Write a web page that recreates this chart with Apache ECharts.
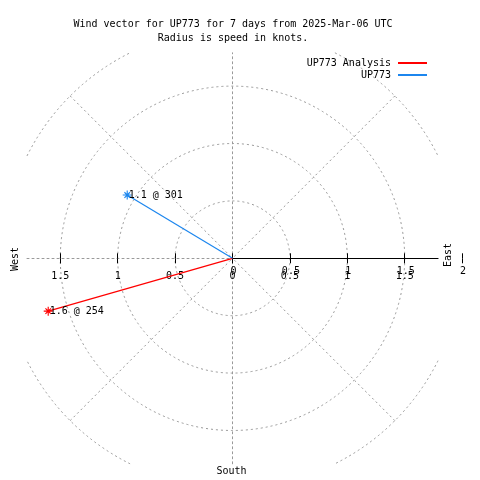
<!DOCTYPE html>
<html><head><meta charset="utf-8">
<script src="https://cdn.jsdelivr.net/npm/echarts@6/dist/echarts.min.js"></script>
<style>html,body{margin:0;padding:0;background:#fff}#c{width:480px;height:480px}</style>
</head><body><div id="c"></div>
<script>
// ---- data ----
const seriesNames = ['UP773 Analysis', 'UP773'];
const seriesColors = ['#ff0000', '#1c86ee'];
const speeds = [1.67, 1.07];          // knots (radius)
const directions = [254, 301];        // degrees (bearing)
const pointLabels = ['1.6 @ 254', '1.1 @ 301'];
const tickValues = [-1.5, -1, -0.5, 0, 0.5, 1, 1.5, 2];
const lowerLabelValues = [-1.5, -1, -0.5, 0, 0.5, 1, 1.5];
const upperLabelValues = [0, 0.5, 1, 1.5, 2];
const titleLines = ['Wind vector for UP773 for 7 days from 2025-Mar-06 UTC', 'Radius is speed in knots.'];
const directionNames = ['West', 'East', 'South'];

// ---- layout ----
const cx = 232.5, cy = 258.3, u = 114.8;
const R = 2 * u, H = 1.79 * u;
const FONT = "'DejaVu Sans Mono', 'Liberation Mono', monospace";
const GRAY = '#999999';
const DASH = [2, 3];

const chart = echarts.init(document.getElementById('c'), null, {renderer: 'canvas'});

const asterisk = 'path://M-0.5,-4L0.5,-4L0.5,4L-0.5,4Z M-4,-0.5L4,-0.5L4,0.5L-4,0.5Z M-2.83,-2.12L-2.12,-2.83L2.83,2.12L2.12,2.83Z M2.12,-2.83L2.83,-2.12L-2.12,2.83L-2.83,2.12Z';

const hiddenAxis = {show: true, axisLine: {show: false}, axisTick: {show: false}, axisLabel: {show: false}, splitLine: {show: false}};

const a1 = Math.acos(H / R), a2 = Math.asin(H / R);
const arcs = [0, 1, 2, 3].map(q => ({
  type: 'arc', z: 0,
  shape: {cx: cx, cy: cy, r: R, startAngle: q * Math.PI / 2 + a1, endAngle: q * Math.PI / 2 + a2, clockwise: true},
  style: {stroke: GRAY, lineWidth: 1, lineDash: DASH, fill: null}
}));

const series = seriesNames.map((name, i) => ({
  name: name,
  type: 'line',
  coordinateSystem: 'polar',
  polarIndex: 1,
  z: 5,
  color: seriesColors[i],
  lineStyle: {color: seriesColors[i], width: 1.2},
  itemStyle: {color: seriesColors[i]},
  symbol: 'none',
  animation: false,
  data: [
    {value: [0, directions[i]], symbol: 'none'},
    {value: [speeds[i], directions[i]], symbol: asterisk, symbolSize: 9,
     label: {show: true, position: 'right', distance: -3, formatter: pointLabels[i],
             color: '#000', fontFamily: FONT, fontSize: 10}}
  ]
}));

const option = {
  animation: false,
  backgroundColor: '#fff',
  title: {
    text: titleLines.join('\n'),
    left: 228, top: 12, textAlign: 'center',
    textStyle: {fontFamily: FONT, fontSize: 10, fontWeight: 'normal', color: '#000', lineHeight: 14}
  },
  legend: seriesNames.map((n, i) => ({
    data: [n], orient: 'vertical', right: 53, top: 58 + i * 12,
    align: 'right', icon: 'rect', itemWidth: 29, itemHeight: 2, itemGap: 0, padding: 0,
    selectedMode: false,
    textStyle: {fontFamily: FONT, fontSize: 10, color: '#000', padding: [0, 2, 0, 0]}
  })),
  polar: [
    {center: [cx, cy], radius: 1.5 * u},
    {center: [cx, cy], radius: R}
  ],
  radiusAxis: [
    {polarIndex: 0, type: 'value', min: 0, max: 1.5, interval: 0.5,
     axisLine: {show: false}, axisTick: {show: false}, axisLabel: {show: false},
     splitLine: {show: true, lineStyle: {color: GRAY, type: DASH, width: 1}}},
    {polarIndex: 1, type: 'value', min: 0, max: 2, interval: 0.5,
     axisLine: {show: false}, axisTick: {show: false}, axisLabel: {show: false}, splitLine: {show: false}}
  ],
  angleAxis: [
    {polarIndex: 0, type: 'value', min: 0, max: 360, startAngle: 90, clockwise: true,
     axisLine: {show: false}, axisTick: {show: false}, axisLabel: {show: false}, splitLine: {show: false}},
    {polarIndex: 1, type: 'value', min: 45, max: 405, interval: 90, startAngle: 45, clockwise: true,
     axisLine: {show: false}, axisTick: {show: false}, axisLabel: {show: false},
     splitLine: {show: true, lineStyle: {color: GRAY, type: DASH, width: 1}}}
  ],
  grid: [
    {left: cx - H, top: cy - H, width: 2 * H, height: 2 * H},
    {left: cx, top: cy - H, width: H, height: 2 * H},
    {left: cx - R, top: cy - 20, width: 2 * R, height: 20},
    {left: cx - R, top: cy, width: 2 * R, height: 20}
  ],
  xAxis: [
    {gridIndex: 0, type: 'value', min: -1.79, max: 1.79, axisLine: {show: true, onZero: true, lineStyle: {color: GRAY, type: DASH, width: 1}},
     axisTick: {show: false}, axisLabel: {show: false}, splitLine: {show: false}},
    {gridIndex: 1, type: 'value', min: 0, max: 1.79, axisLine: {show: true, onZero: true, lineStyle: {color: '#000', width: 1}},
     axisTick: {show: false}, axisLabel: {show: false}, splitLine: {show: false}, z: 3},
    {gridIndex: 2, type: 'value', position: 'bottom', min: -2, max: 2, interval: 0.5,
     axisLine: {show: false, onZero: false},
     axisTick: {show: true, length: 5, customValues: tickValues, lineStyle: {color: '#000', width: 1}},
     axisLabel: {show: true, customValues: lowerLabelValues, margin: 13, formatter: v => String(Math.abs(v)),
                 color: '#000', fontFamily: FONT, fontSize: 10, showMinLabel: true, showMaxLabel: true},
     splitLine: {show: false}, z: 4},
    {gridIndex: 3, type: 'value', position: 'top', min: -2, max: 2, interval: 0.5,
     axisLine: {show: false, onZero: false},
     axisTick: {show: true, length: 5, customValues: tickValues, lineStyle: {color: '#000', width: 1}},
     axisLabel: {show: true, inside: true, customValues: upperLabelValues, margin: 8, formatter: v => String(Math.abs(v)),
                 padding: [0, 0, 0, 2], color: '#000', fontFamily: FONT, fontSize: 10, showMinLabel: true, showMaxLabel: true},
     splitLine: {show: false}, z: 4}
  ],
  yAxis: [
    {gridIndex: 0, type: 'value', min: -1.79, max: 1.79, axisLine: {show: true, onZero: true, lineStyle: {color: GRAY, type: DASH, width: 1}},
     axisTick: {show: false}, axisLabel: {show: false}, splitLine: {show: false}},
    Object.assign({gridIndex: 1, type: 'value', min: -1.79, max: 1.79}, hiddenAxis),
    Object.assign({gridIndex: 2, type: 'value', min: 0, max: 1}, hiddenAxis),
    Object.assign({gridIndex: 3, type: 'value', min: 0, max: 1}, hiddenAxis)
  ],
  graphic: arcs.concat([
    {type: 'text', x: 15, y: 259, rotation: Math.PI / 2,
     style: {text: directionNames[0], fontFamily: FONT, fontSize: 10, fill: '#000', align: 'center', verticalAlign: 'middle'}},
    {type: 'text', x: 448, y: 255, rotation: Math.PI / 2,
     style: {text: directionNames[1], fontFamily: FONT, fontSize: 10, fill: '#000', align: 'center', verticalAlign: 'middle'}},
    {type: 'text', x: 231.5, y: 471.5,
     style: {text: directionNames[2], fontFamily: FONT, fontSize: 10, fill: '#000', align: 'center', verticalAlign: 'middle'}}
  ]),
  series: series
};
chart.setOption(option);
</script></body></html>
